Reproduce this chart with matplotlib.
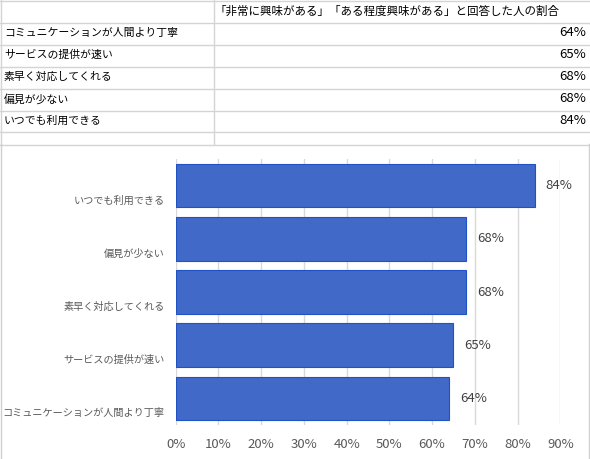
import matplotlib
matplotlib.use("Agg")
import matplotlib.pyplot as plt
from matplotlib.lines import Line2D
from matplotlib.transforms import ScaledTranslation
from matplotlib.ticker import FuncFormatter

plt.rcParams['font.family'] = ['Noto Sans CJK JP', 'DejaVu Sans']

# データ（表の順番）
items = ['コミュニケーションが人間より丁寧', 'サービスの提供が速い', '素早く対応してくれる',
         '偏見が少ない', 'いつでも利用できる']
rates = [0.64, 0.65, 0.68, 0.68, 0.84]
header = '「非常に興味がある」「ある程度興味がある」と回答した人の割合'
xticks = [0, 0.1, 0.2, 0.3, 0.4, 0.5, 0.6, 0.7, 0.8, 0.9]

W, H = 590, 459
fig = plt.figure(figsize=(W / 100, H / 100), dpi=100)

def fx(px):
    return px / W

def fy(py):
    return 1 - py / H

grid_c = '#d4d4d4'
# 表の罫線
row_lines = [0, 22, 44, 66, 88, 110, 132, 144]
for y in row_lines:
    fig.add_artist(Line2D([0, 1], [fy(y + 0.5), fy(y + 0.5)], color=grid_c, lw=1))
fig.add_artist(Line2D([fx(213.5), fx(213.5)], [fy(0), fy(144)], color=grid_c, lw=1))
fig.add_artist(Line2D([fx(0.5), fx(0.5)], [fy(0), fy(144)], color=grid_c, lw=1))
# グラフ枠
fig.add_artist(Line2D([fx(1), fx(1)], [fy(144), 0], color='#d0d0d0', lw=1))
fig.add_artist(Line2D([fx(589), fx(589)], [fy(144), 0], color='#d0d0d0', lw=1))

fig.text(fx(215), fy(11), header, fontsize=8.3, color='black', va='center', ha='left')
for i, (name, r) in enumerate(zip(items, rates)):
    yc = 33 + 22 * i
    fig.text(fx(4), fy(yc), name, fontsize=7.8, color='black', va='center', ha='left')
    fig.text(fx(586), fy(yc), f'{r:.0%}', fontsize=9.5, color='black', va='center', ha='right')

# 棒グラフ
left, right = 175.7, 560.3
top, bottom = 159, 425
ax = fig.add_axes([fx(left), fy(bottom), fx(right) - fx(left), (bottom - top) / H])
ypos = list(range(len(items)))
bars = ax.barh(ypos, rates, height=0.82, color='#4169c8', edgecolor='#1f52c4', linewidth=0.8, zorder=3)
ax.set_xlim(0, 0.9)
ax.set_ylim(-0.5, len(items) - 0.5)
ax.set_xticks(xticks)
ax.xaxis.set_major_formatter(FuncFormatter(lambda v, p: f'{v:.0%}'))
ax.set_yticks(ypos)
ax.set_yticklabels(items, fontsize=7.3, color='#595959')
ax.tick_params(axis='x', length=0, labelsize=9.5, labelcolor='#595959', pad=9)
ax.tick_params(axis='y', length=0, pad=8)
ax.grid(axis='x', color='#d9d9d9', lw=1, zorder=0)
for s in ax.spines.values():
    s.set_visible(False)

off = ScaledTranslation(0, -14 / 100, fig.dpi_scale_trans)
for lab in ax.get_yticklabels():
    lab.set_transform(lab.get_transform() + off)

for b, r in zip(bars, rates):
    ax.annotate(f'{r:.0%}', (b.get_width(), b.get_y() + b.get_height() / 2),
                xytext=(8, 0), textcoords='offset points', va='center', ha='left',
                fontsize=9.5, color='#404040')

fig.savefig('out.png', dpi=100)
